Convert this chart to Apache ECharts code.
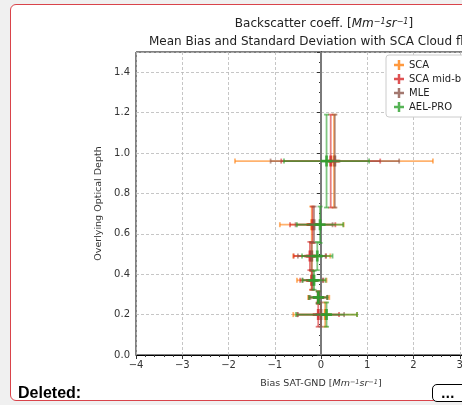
<!DOCTYPE html>
<html>
<head>
<meta charset="utf-8">
<script src="https://cdn.jsdelivr.net/npm/echarts@6/dist/echarts.min.js"></script>
<style>
  html, body { margin: 0; padding: 0; width: 462px; height: 405px; overflow: hidden; background: #f0f0f0; }
  #frame { position: absolute; left: 10px; top: 4px; width: 520px; height: 395px; background: #fff;
           border: 1.5px solid #d9434a; border-radius: 6px; }
  #chart { position: absolute; left: 0; top: 0; width: 560px; height: 405px; }
  #deleted { position: absolute; left: 18px; top: 384px; font: bold 16px "Liberation Sans", Arial, sans-serif; color: #000; }
  #more { position: absolute; left: 432px; top: 384px; width: 40px; height: 18px; border: 1px solid #000;
          border-radius: 5px; background: #fff; font: bold 12px "DejaVu Sans", sans-serif; line-height: 18px;
          padding-left: 8px; box-sizing: border-box; }
</style>
</head>
<body>
<div id="frame"></div>
<div id="chart"></div>
<div id="deleted">Deleted:</div>
<div id="more">...</div>
<script>
// optical depth bins (y) and their spread
var depth = [0.96, 0.645, 0.49, 0.37, 0.285, 0.2]
var depthErr = [0.23, 0.09, 0.07, 0.047, 0.03, 0.06]

// bias mean / std per product
var scaBias = [0.28, -0.20, -0.20, -0.20, -0.05, 0.09]
var scaStd = [2.14, 0.69, 0.40, 0.32, 0.23, 0.69]
var midBias = [0.21, -0.18, -0.24, -0.20, -0.06, -0.06]
var midStd = [1.07, 0.49, 0.35, 0.25, 0.20, 0.45]
var mleBias = [0.30, -0.15, -0.20, -0.18, -0.05, 0.00]
var mleStd = [1.39, 0.40, 0.30, 0.22, 0.18, 0.50]
var aelBias = [0.12, -0.02, -0.08, -0.15, -0.06, 0.12]
var aelStd = [0.92, 0.50, 0.33, 0.25, 0.20, 0.66]

var names = ['SCA', 'SCA mid-bin', 'MLE', 'AEL-PRO']
var colors = ['#ff7f0e', '#d62728', '#8c564b', '#2ca02c']
var xTicks = [-4, 4, 1]
var yTicks = [0, 1.5, 0.2]

var plus = 'path://M3,0H5V3H8V5H5V8H3V5H0V3H3Z'

function rows (bias, std) {
  return bias.map(function (b, i) { return [b, depth[i], std[i], depthErr[i]] })
}

function errRender (color) {
  return function (params, api) {
    var x = api.value(0), y = api.value(1), dx = api.value(2), dy = api.value(3)
    var l = api.coord([x - dx, y]), r = api.coord([x + dx, y])
    var t = api.coord([x, y + dy]), b = api.coord([x, y - dy])
    var cap = 2.5
    var st = { stroke: color, lineWidth: 1.8, opacity: 0.6 }
    var seg = function (x1, y1, x2, y2) {
      return { type: 'line', shape: { x1: x1, y1: y1, x2: x2, y2: y2 }, style: st }
    }
    return {
      type: 'group',
      children: [
        seg(l[0], l[1], r[0], r[1]),
        seg(l[0], l[1] - cap, l[0], l[1] + cap),
        seg(r[0], r[1] - cap, r[0], r[1] + cap),
        seg(t[0], t[1], b[0], b[1]),
        seg(t[0] - cap, t[1], t[0] + cap, t[1]),
        seg(b[0] - cap, b[1], b[0] + cap, b[1])
      ]
    }
  }
}

var all = [[scaBias, scaStd], [midBias, midStd], [mleBias, mleStd], [aelBias, aelStd]]
var series = []
all.forEach(function (s, i) {
  var d = rows(s[0], s[1])
  series.push({
    name: names[i], type: 'scatter', symbol: plus, symbolSize: 11, data: d, z: 3 + i,
    itemStyle: { color: colors[i], opacity: 0.8 }
  })
  series.push({
    name: names[i], type: 'custom', data: d, z: 3 + i, color: colors[i],
    encode: { x: 0, y: 1 }, renderItem: errRender(colors[i])
  })
})
series[0].markLine = {
  silent: true, symbol: 'none', label: { show: false },
  lineStyle: { color: '#7a7a7a', width: 2, type: 'solid' },
  data: [{ xAxis: 0 }]
}

var font = 'DejaVu Sans'
var chart = echarts.init(document.getElementById('chart'))
chart.setOption({
  animation: false,
  textStyle: { fontFamily: font },
  title: [{
    text: 'Backscatter coeff. [{i|Mm}{s|−1}{i|sr}{s|−1}]', left: 319, top: 13, textAlign: 'center',
    textStyle: { fontSize: 12, fontWeight: 'normal', color: '#222', fontFamily: font,
      rich: { i: { fontStyle: 'italic', fontSize: 12, fontFamily: font, color: '#222' },
              s: { fontStyle: 'italic', fontSize: 8, verticalAlign: 'top', fontFamily: font, color: '#222' } } }
  }, {
    text: 'Mean Bias and Standard Deviation with SCA Cloud flag', left: 144, top: 31,
    textStyle: { fontSize: 12, fontWeight: 'normal', color: '#222', fontFamily: font }
  }],
  legend: {
    orient: 'vertical', left: 386, top: 55, itemGap: 4, itemWidth: 10, itemHeight: 10,
    padding: [5, 8, 5, 8], backgroundColor: '#fff', borderColor: '#ccc', borderWidth: 1, borderRadius: 3,
    textStyle: { fontSize: 10, color: '#222', fontFamily: font },
    data: names.map(function (n) { return { name: n, icon: plus } })
  },
  grid: { left: 136, top: 52, right: 54, bottom: 50, show: true, borderColor: '#000', borderWidth: 1 },
  xAxis: {
    type: 'value', min: xTicks[0], max: xTicks[1], interval: xTicks[2],
    name: '{n|Bias SAT-GND [}{i|Mm}{s|−1}{i|sr}{s|−1}{n|]}', nameLocation: 'middle', nameGap: 24,
    nameTextStyle: { rich: {
      n: { fontSize: 9.5, color: '#333', fontFamily: font },
      i: { fontSize: 9.5, fontStyle: 'italic', color: '#333', fontFamily: font },
      s: { fontSize: 6.5, fontStyle: 'italic', verticalAlign: 'top', color: '#333', fontFamily: font } } },
    axisLine: { lineStyle: { color: '#000', width: 1 } },
    axisTick: { length: 4, lineStyle: { color: '#333' } },
    minorTick: { show: true, splitNumber: 5, length: 2, lineStyle: { color: '#333' } },
    axisLabel: { fontSize: 10, color: '#333', margin: 5,
      formatter: function (v) { return String(v).replace('-', '−') } },
    splitLine: { show: true, lineStyle: { color: '#b8b8b8', type: [3, 2], width: 0.8 } }
  },
  yAxis: {
    type: 'value', min: yTicks[0], max: yTicks[1], interval: yTicks[2],
    name: 'Overlying Optical Depth', nameLocation: 'middle', nameGap: 31,
    nameTextStyle: { fontSize: 9.5, color: '#333', fontFamily: font },
    axisLine: { show: true, lineStyle: { color: '#000', width: 1 } },
    axisTick: { show: true, length: 4, lineStyle: { color: '#333' } },
    minorTick: { show: true, splitNumber: 4, length: 2, lineStyle: { color: '#333' } },
    axisLabel: { fontSize: 10, color: '#333', margin: 6, showMaxLabel: false,
      formatter: function (v) { return v.toFixed(1) } },
    splitLine: { show: true, lineStyle: { color: '#b8b8b8', type: [3, 2], width: 0.8 } }
  },
  series: series
})
</script>
</body>
</html>
